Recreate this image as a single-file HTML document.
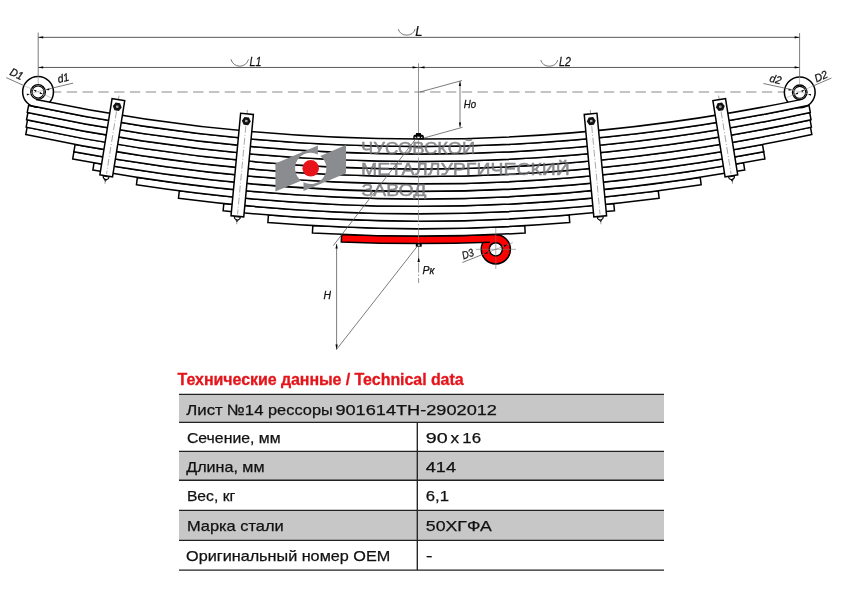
<!DOCTYPE html>
<html><head><meta charset="utf-8">
<style>
html,body{margin:0;padding:0;background:#fff;}
body{width:842px;height:595px;position:relative;overflow:hidden;font-family:"Liberation Sans",sans-serif;}
svg{position:absolute;left:0;top:0;will-change:transform;}
</style></head><body>
<svg width="842" height="595" viewBox="0 0 842 595">
<line x1="53.7" y1="92.05" x2="784.5" y2="92.05" stroke="#8a8a8a" stroke-width="1.1" stroke-dasharray="10.4 5.4" stroke-dashoffset="2.8"/>
<circle cx="495.8" cy="249.3" r="10.60" fill="none" stroke="#fe0000" stroke-width="8.00"/>
<circle cx="495.8" cy="249.3" r="14.60" fill="none" stroke="#000" stroke-width="1.5"/>
<circle cx="495.8" cy="249.3" r="6.60" fill="#fff" stroke="#000" stroke-width="1.5"/>
<path d="M341.60 234.48 A1865 1865 0 0 0 495.80 234.49 L495.80 241.99 A1865 1865 0 0 1 341.60 241.98 Z" fill="#fe0000" stroke="none"/>
<path d="M495.80 234.49 A1865 1865 0 0 1 341.60 234.48 L341.30 241.97 A1865 1865 0 0 0 490.00 242.22" fill="none" stroke="#000" stroke-width="1.5"/>
<path d="M312.80 225.61 A1865 1865 0 0 0 524.80 225.61 L525.16 233.04 A1865 1865 0 0 1 312.44 233.04 Z" fill="#fff" stroke="#000" stroke-width="1.5"/>
<path d="M268.40 215.09 A1865 1865 0 0 0 569.20 215.09 L569.71 222.50 A1865 1865 0 0 1 267.89 222.50 Z" fill="#fff" stroke="#000" stroke-width="1.5"/>
<path d="M223.80 203.48 A1865 1865 0 0 0 613.80 203.48 L614.46 210.87 A1865 1865 0 0 1 223.14 210.87 Z" fill="#fff" stroke="#000" stroke-width="1.5"/>
<path d="M179.30 190.80 A1865 1865 0 0 0 658.30 190.80 L659.11 198.15 A1865 1865 0 0 1 178.49 198.15 Z" fill="#fff" stroke="#000" stroke-width="1.5"/>
<path d="M137.40 177.43 A1865 1865 0 0 0 700.20 177.43 L701.16 184.74 A1865 1865 0 0 1 136.44 184.74 Z" fill="#fff" stroke="#000" stroke-width="1.5"/>
<path d="M94.00 162.82 A1865 1865 0 0 0 743.60 162.82 L744.70 170.08 A1865 1865 0 0 1 92.90 170.08 Z" fill="#fff" stroke="#000" stroke-width="1.5"/>
<path d="M73.90 151.69 A1865 1865 0 0 0 763.70 151.69 L764.87 158.93 A1865 1865 0 0 1 72.73 158.93 Z" fill="#fff" stroke="#000" stroke-width="1.5"/>
<path d="M75.10 144.46 A1865 1865 0 0 0 762.50 144.46 L763.67 151.70 A1865 1865 0 0 1 73.93 151.70 Z" fill="#fff" stroke="#000" stroke-width="1.5"/>
<path d="M27.10 127.34 A1865 1865 0 0 0 810.50 127.34 L811.83 134.52 A1865 1865 0 0 1 25.77 134.52 Z" fill="#fff" stroke="#000" stroke-width="1.5"/>
<path d="M27.50 119.97 A1865 1865 0 0 0 810.10 119.97 L811.43 127.14 A1865 1865 0 0 1 26.17 127.14 Z" fill="#fff" stroke="#000" stroke-width="1.5"/>
<path d="M27.90 112.59 A1865 1865 0 0 0 809.70 112.59 L811.03 119.77 A1865 1865 0 0 1 26.57 119.77 Z" fill="#fff" stroke="#000" stroke-width="1.5"/>
<path d="M28.60 105.28 A1865 1865 0 0 0 809.00 105.28 L810.33 112.46 A1865 1865 0 0 1 27.27 112.46 Z" fill="#fff" stroke="#000" stroke-width="1.5"/>
<circle cx="38.05" cy="91.95" r="15.4" fill="#fff" stroke="#000" stroke-width="1.5"/>
<circle cx="799.75" cy="92.3" r="15.4" fill="#fff" stroke="#000" stroke-width="1.5"/>
<path d="M38.05 99.82 A1865 1865 0 0 0 799.75 99.78 L799.75 107.24 A1865 1865 0 0 1 38.05 107.28 Z" fill="#fff" stroke="none"/>
<path d="M36.05 99.40 A1865 1865 0 0 0 801.75 99.36" fill="none" stroke="#000" stroke-width="1.5"/>
<path d="M28.60 105.28 A1865 1865 0 0 0 809.00 105.28" fill="none" stroke="#000" stroke-width="1.5"/>
<circle cx="38.05" cy="91.95" r="7.3" fill="#fff" stroke="#000" stroke-width="1.35"/>
<circle cx="38.05" cy="91.95" r="5.95" fill="none" stroke="#000" stroke-width="1.05"/>
<circle cx="799.75" cy="92.3" r="7.3" fill="#fff" stroke="#000" stroke-width="1.35"/>
<circle cx="799.75" cy="92.3" r="5.95" fill="none" stroke="#000" stroke-width="1.05"/>
<g transform="translate(118.40 99.60) rotate(9.08)"><line x1="0" y1="-4" x2="0" y2="85.27" stroke="#777" stroke-width="0.7" stroke-dasharray="7 2 1 2"/><rect x="-6.4" y="0" width="12.8" height="77.27" fill="#fff" stroke="#000" stroke-width="1.5"/><line x1="0" y1="12" x2="0" y2="75.27" stroke="#888" stroke-width="0.7" stroke-dasharray="7 2 1 2"/><polygon points="4.50,7.20 2.25,11.10 -2.25,11.10 -4.50,7.20 -2.25,3.30 2.25,3.30" fill="#111"/><rect x="-1.1" y="6.1" width="2.2" height="2.2" fill="#d0d0d0"/><rect x="-0.4" y="6.8" width="0.8" height="0.8" fill="#444"/><path d="M-3 77.87 Q-3 80.67 0 80.87 Q3 80.67 3 77.87 Z" fill="#fff" stroke="#000" stroke-width="1"/><path d="M-1.2 80.77 L0 82.77 L1.2 80.77" fill="none" stroke="#000" stroke-width="0.8"/></g>
<g transform="translate(247.00 113.90) rotate(5.36)"><line x1="0" y1="-4" x2="0" y2="110.85" stroke="#777" stroke-width="0.7" stroke-dasharray="7 2 1 2"/><rect x="-6.4" y="0" width="12.8" height="102.85" fill="#fff" stroke="#000" stroke-width="1.5"/><line x1="0" y1="12" x2="0" y2="100.85" stroke="#888" stroke-width="0.7" stroke-dasharray="7 2 1 2"/><polygon points="4.50,7.20 2.25,11.10 -2.25,11.10 -4.50,7.20 -2.25,3.30 2.25,3.30" fill="#111"/><rect x="-1.1" y="6.1" width="2.2" height="2.2" fill="#d0d0d0"/><rect x="-0.4" y="6.8" width="0.8" height="0.8" fill="#444"/><path d="M-3 103.45 Q-3 106.25 0 106.45 Q3 106.25 3 103.45 Z" fill="#fff" stroke="#000" stroke-width="1"/><path d="M-1.2 106.35 L0 108.35 L1.2 106.35" fill="none" stroke="#000" stroke-width="0.8"/></g>
<g transform="translate(590.60 113.90) rotate(-5.36)"><line x1="0" y1="-4" x2="0" y2="110.85" stroke="#777" stroke-width="0.7" stroke-dasharray="7 2 1 2"/><rect x="-6.4" y="0" width="12.8" height="102.85" fill="#fff" stroke="#000" stroke-width="1.5"/><line x1="0" y1="12" x2="0" y2="100.85" stroke="#888" stroke-width="0.7" stroke-dasharray="7 2 1 2"/><polygon points="4.50,7.20 2.25,11.10 -2.25,11.10 -4.50,7.20 -2.25,3.30 2.25,3.30" fill="#111"/><rect x="-1.1" y="6.1" width="2.2" height="2.2" fill="#d0d0d0"/><rect x="-0.4" y="6.8" width="0.8" height="0.8" fill="#444"/><path d="M-3 103.45 Q-3 106.25 0 106.45 Q3 106.25 3 103.45 Z" fill="#fff" stroke="#000" stroke-width="1"/><path d="M-1.2 106.35 L0 108.35 L1.2 106.35" fill="none" stroke="#000" stroke-width="0.8"/></g>
<g transform="translate(719.20 99.60) rotate(-9.08)"><line x1="0" y1="-4" x2="0" y2="85.27" stroke="#777" stroke-width="0.7" stroke-dasharray="7 2 1 2"/><rect x="-6.4" y="0" width="12.8" height="77.27" fill="#fff" stroke="#000" stroke-width="1.5"/><line x1="0" y1="12" x2="0" y2="75.27" stroke="#888" stroke-width="0.7" stroke-dasharray="7 2 1 2"/><polygon points="4.50,7.20 2.25,11.10 -2.25,11.10 -4.50,7.20 -2.25,3.30 2.25,3.30" fill="#111"/><rect x="-1.1" y="6.1" width="2.2" height="2.2" fill="#d0d0d0"/><rect x="-0.4" y="6.8" width="0.8" height="0.8" fill="#444"/><path d="M-3 77.87 Q-3 80.67 0 80.87 Q3 80.67 3 77.87 Z" fill="#fff" stroke="#000" stroke-width="1"/><path d="M-1.2 80.77 L0 82.77 L1.2 80.77" fill="none" stroke="#000" stroke-width="0.8"/></g>
<line x1="418.5" y1="63.3" x2="418.5" y2="133" stroke="#777" stroke-width="0.8"/>
<line x1="418.5" y1="140" x2="418.5" y2="243" stroke="#888" stroke-width="0.7" stroke-dasharray="12 2 1.5 2"/>
<line x1="418.6" y1="247" x2="418.6" y2="283" stroke="#777" stroke-width="0.8" stroke-dasharray="10 2 1.5 2"/>
<path d="M416.0 133.1 Q416.0 132.9 416.6 132.9 H420.4 Q421.0 132.9 421.0 133.4 V134.6 Q423.9 134.8 423.9 136.6 V139.2 H413.3 V136.6 Q413.3 134.8 416.0 134.6 Z" fill="#000"/>
<rect x="417.2" y="136.7" width="2.5" height="1.4" fill="#fff"/><rect x="414.7" y="136.8" width="1.1" height="1.2" fill="#fff"/><rect x="421.2" y="136.8" width="1.1" height="1.2" fill="#fff"/>
<rect x="415.8" y="243.3" width="5.9" height="3.4" fill="#000"/><rect x="417.8" y="244.5" width="2" height="1.2" fill="#fff"/>
<line x1="38.2" y1="32.6" x2="38.2" y2="76.5" stroke="#5a5a5a" stroke-width="0.8"/>
<line x1="38.2" y1="76.5" x2="38.2" y2="84" stroke="#999" stroke-width="0.7"/>
<line x1="799.6" y1="33.1" x2="799.6" y2="77" stroke="#5a5a5a" stroke-width="0.8"/>
<line x1="799.6" y1="77" x2="799.6" y2="84.3" stroke="#999" stroke-width="0.7"/>
<line x1="38.2" y1="37.35" x2="799.6" y2="37.35" stroke="#5a5a5a" stroke-width="1.0"/>
<path d="M38.40 37.35 L43.20 36.20 L43.20 38.50 Z" fill="#000"/>
<path d="M799.40 37.35 L794.60 38.50 L794.60 36.20 Z" fill="#000"/>
<line x1="38.2" y1="67.45" x2="799.6" y2="67.45" stroke="#5a5a5a" stroke-width="1.0"/>
<path d="M38.40 67.45 L43.20 66.30 L43.20 68.60 Z" fill="#000"/>
<path d="M417.40 67.45 L412.60 68.60 L412.60 66.30 Z" fill="#000"/>
<path d="M419.70 67.45 L424.50 66.30 L424.50 68.60 Z" fill="#000"/>
<path d="M799.40 67.45 L794.60 68.60 L794.60 66.30 Z" fill="#000"/>
<path d="M398.20 29.10 A9 9 0 0 0 415.20 29.10" fill="none" stroke="#555" stroke-width="0.8"/>
<path d="M231.00 59.30 A9 9 0 0 0 248.50 59.30" fill="none" stroke="#555" stroke-width="0.8"/>
<path d="M540.70 60.00 A9 9 0 0 0 557.80 60.00" fill="none" stroke="#555" stroke-width="0.8"/>
<text transform="translate(415.20 35.60) scale(0.900 1)" font-family="Liberation Sans" font-style="italic" font-size="14.5" fill="#111" stroke="#111" stroke-width="0.25" text-anchor="start">L</text>
<text transform="translate(249.50 65.60) scale(0.820 1)" font-family="Liberation Sans" font-style="italic" font-size="13" fill="#111" stroke="#111" stroke-width="0.25" text-anchor="start">L1</text>
<text transform="translate(559.00 65.60) scale(0.820 1)" font-family="Liberation Sans" font-style="italic" font-size="13" fill="#111" stroke="#111" stroke-width="0.25" text-anchor="start">L2</text>
<line x1="419.7" y1="92.1" x2="462" y2="80.5" stroke="#5a5a5a" stroke-width="0.8"/>
<line x1="424.2" y1="137.9" x2="462.5" y2="127.3" stroke="#5a5a5a" stroke-width="0.8"/>
<line x1="460" y1="81" x2="460" y2="127.3" stroke="#5a5a5a" stroke-width="0.8"/>
<path d="M460.00 81.30 L461.15 86.10 L458.85 86.10 Z" fill="#000"/>
<path d="M460.00 127.20 L458.85 122.40 L461.15 122.40 Z" fill="#000"/>
<text transform="translate(463.80 108.10) scale(0.920 1)" font-family="Liberation Sans" font-style="italic" font-size="10.5" fill="#111" stroke="#111" stroke-width="0.25" text-anchor="start">Ho</text>
<line x1="418" y1="136" x2="333.3" y2="245.6" stroke="#5a5a5a" stroke-width="0.8"/>
<line x1="336.6" y1="244" x2="336.6" y2="349.4" stroke="#5a5a5a" stroke-width="0.8"/>
<line x1="336.4" y1="349.6" x2="417.5" y2="246" stroke="#5a5a5a" stroke-width="0.8"/>
<path d="M336.60 243.80 L337.75 248.60 L335.45 248.60 Z" fill="#000"/>
<path d="M336.60 349.40 L335.45 344.60 L337.75 344.60 Z" fill="#000"/>
<text transform="translate(323.60 298.50) scale(0.950 1)" font-family="Liberation Sans" font-style="italic" font-size="11" fill="#111" stroke="#111" stroke-width="0.25" text-anchor="start">H</text>
<path d="M418.70 256.40 L419.90 261.90 L417.50 261.90 Z" fill="#000"/>
<text transform="translate(422.60 273.80)" font-family="Liberation Sans" font-style="italic" font-size="10.5" fill="#111" stroke="#111" stroke-width="0.25" text-anchor="start">Pк</text>
<line x1="6.20" y1="77.60" x2="24.00" y2="85.60" stroke="#5a5a5a" stroke-width="0.8"/>
<line x1="24.00" y1="85.60" x2="52.00" y2="98.20" stroke="#aaa" stroke-width="0.6"/>
<text transform="translate(9.00 74.50) rotate(24.5) scale(0.950 1)" font-family="Liberation Sans" font-style="italic" font-size="11" fill="#111" stroke="#111" stroke-width="0.25" text-anchor="start">D1</text>
<line x1="73.20" y1="83.10" x2="46.00" y2="89.60" stroke="#5a5a5a" stroke-width="0.8"/>
<line x1="46.00" y1="89.60" x2="30.00" y2="93.60" stroke="#aaa" stroke-width="0.6"/>
<text transform="translate(58.40 83.00) rotate(-13.5) scale(0.950 1)" font-family="Liberation Sans" font-style="italic" font-size="11" fill="#111" stroke="#111" stroke-width="0.25" text-anchor="start">d1</text>
<line x1="831.50" y1="78.00" x2="813.00" y2="86.00" stroke="#5a5a5a" stroke-width="0.8"/>
<line x1="813.00" y1="86.00" x2="786.00" y2="98.00" stroke="#aaa" stroke-width="0.6"/>
<text transform="translate(816.50 82.60) rotate(-24.5) scale(0.950 1)" font-family="Liberation Sans" font-style="italic" font-size="11" fill="#111" stroke="#111" stroke-width="0.25" text-anchor="start">D2</text>
<line x1="763.40" y1="83.50" x2="792.00" y2="89.70" stroke="#5a5a5a" stroke-width="0.8"/>
<line x1="792.00" y1="89.70" x2="808.00" y2="94.00" stroke="#aaa" stroke-width="0.6"/>
<text transform="translate(769.00 81.60) rotate(13.5) scale(0.950 1)" font-family="Liberation Sans" font-style="italic" font-size="11" fill="#111" stroke="#111" stroke-width="0.25" text-anchor="start">d2</text>
<path d="M42.87 94.15 L39.59 93.64 L40.33 92.00 Z" fill="#000"/>
<path d="M46.12 90.01 L49.02 88.39 L49.44 90.14 Z" fill="#000"/>
<path d="M804.57 90.10 L802.03 92.25 L801.29 90.61 Z" fill="#000"/>
<path d="M807.82 94.24 L811.14 94.11 L810.72 95.86 Z" fill="#000"/>
<path d="M33.23 89.75 L36.51 90.26 L35.77 91.90 Z" fill="#000"/>
<path d="M29.98 93.89 L27.08 95.51 L26.66 93.76 Z" fill="#000"/>
<path d="M794.93 94.50 L797.47 92.35 L798.21 93.99 Z" fill="#000"/>
<path d="M791.68 90.36 L788.36 90.49 L788.78 88.74 Z" fill="#000"/>
<line x1="462.40" y1="262.50" x2="481.20" y2="255.00" stroke="#5a5a5a" stroke-width="0.8"/>
<line x1="481.20" y1="255.00" x2="512.70" y2="242.70" stroke="#777" stroke-width="0.6"/>
<line x1="476.00" y1="249.30" x2="516.00" y2="249.30" stroke="#777" stroke-width="0.6"/>
<line x1="495.80" y1="228.00" x2="495.80" y2="269.00" stroke="#777" stroke-width="0.6"/>
<text transform="translate(463.50 259.60) rotate(-20.0) scale(0.850 1)" font-family="Liberation Sans" font-style="italic" font-size="11" fill="#111" stroke="#111" stroke-width="0.25" text-anchor="start">D3</text>
<path d="M507.71 244.61 L504.32 246.91 L503.66 245.24 Z" fill="#000"/>
<path d="M483.89 253.99 L487.28 251.69 L487.94 253.36 Z" fill="#000"/>
<g><path d="M275.4 191.5 L275.4 163.4 L317.9 145.6 L317.9 154.46 A15.6 15.6 0 0 0 301.19 180.67 Z" fill="#8b8c90"/><path d="M275.4 191.5 L275.4 163.4 L317.9 145.6 L317.9 154.46 A15.6 15.6 0 0 0 301.19 180.67 Z" fill="#8b8c90" transform="rotate(180 310.7 168.3)"/><circle cx="310.7" cy="168.3" r="8.25" fill="#e8141b"/></g>
<text transform="translate(361.00 153.70) scale(1.168 1)" font-family="Liberation Sans" font-size="15.8" fill="#6b6c70" stroke="#6b6c70" stroke-width="0.45" opacity="0.78">ЧУСОВСКОЙ</text>
<text transform="translate(361.00 174.60) scale(1.234 1)" font-family="Liberation Sans" font-size="15.8" fill="#6b6c70" stroke="#6b6c70" stroke-width="0.45" opacity="0.78">МЕТАЛЛУРГИЧЕСКИЙ</text>
<text transform="translate(361.50 196.00) scale(1.232 1)" font-family="Liberation Sans" font-size="15.8" fill="#6b6c70" stroke="#6b6c70" stroke-width="0.45" opacity="0.78">ЗАВОД</text>
<rect x="179.0" y="394.4" width="485.0" height="27.90" fill="#c7c7c7"/>
<rect x="179.0" y="451.4" width="485.0" height="28.80" fill="#c7c7c7"/>
<rect x="179.0" y="510.4" width="485.0" height="30.00" fill="#c7c7c7"/>
<line x1="179.0" y1="394.4" x2="664.0" y2="394.4" stroke="#222" stroke-width="1.35"/>
<line x1="179.0" y1="422.3" x2="664.0" y2="422.3" stroke="#222" stroke-width="1.35"/>
<line x1="179.0" y1="451.4" x2="664.0" y2="451.4" stroke="#222" stroke-width="1.35"/>
<line x1="179.0" y1="480.2" x2="664.0" y2="480.2" stroke="#222" stroke-width="1.35"/>
<line x1="179.0" y1="510.4" x2="664.0" y2="510.4" stroke="#222" stroke-width="1.35"/>
<line x1="179.0" y1="540.4" x2="664.0" y2="540.4" stroke="#222" stroke-width="1.35"/>
<line x1="179.0" y1="570.1" x2="664.0" y2="570.1" stroke="#222" stroke-width="1.35"/>
<line x1="417.3" y1="422.3" x2="417.3" y2="570.1" stroke="#222" stroke-width="1.35"/>
<text x="186.30" y="414.80" font-family="Liberation Sans" font-size="15" fill="#111" stroke="#111" stroke-width="0.25" textLength="36.5" lengthAdjust="spacingAndGlyphs">Лист</text>
<text x="227.00" y="414.80" font-family="Liberation Sans" font-size="15" fill="#111" stroke="#111" stroke-width="0.25" textLength="36.4" lengthAdjust="spacingAndGlyphs">№14</text>
<text x="268.00" y="414.80" font-family="Liberation Sans" font-size="15" fill="#111" stroke="#111" stroke-width="0.25" textLength="64.8" lengthAdjust="spacingAndGlyphs">рессоры</text>
<text x="335.40" y="414.80" font-family="Liberation Sans" font-size="15" fill="#111" stroke="#111" stroke-width="0.25" textLength="161.6" lengthAdjust="spacingAndGlyphs">901614TH-2902012</text>
<text x="186.90" y="442.70" font-family="Liberation Sans" font-size="15" fill="#111" stroke="#111" stroke-width="0.25" textLength="93.7" lengthAdjust="spacingAndGlyphs">Сечение, мм</text>
<text x="425.80" y="442.70" font-family="Liberation Sans" font-size="15" fill="#111" stroke="#111" stroke-width="0.25" textLength="21.9" lengthAdjust="spacingAndGlyphs">90</text>
<text x="450.60" y="442.70" font-family="Liberation Sans" font-size="15" fill="#111" stroke="#111" stroke-width="0.25" textLength="8.6" lengthAdjust="spacingAndGlyphs">x</text>
<text x="462.30" y="442.70" font-family="Liberation Sans" font-size="15" fill="#111" stroke="#111" stroke-width="0.25" textLength="18.7" lengthAdjust="spacingAndGlyphs">16</text>
<text x="186.30" y="471.80" font-family="Liberation Sans" font-size="15" fill="#111" stroke="#111" stroke-width="0.25" textLength="78.2" lengthAdjust="spacingAndGlyphs">Длина, мм</text>
<text x="425.80" y="471.80" font-family="Liberation Sans" font-size="15" fill="#111" stroke="#111" stroke-width="0.25" textLength="30.2" lengthAdjust="spacingAndGlyphs">414</text>
<text x="186.90" y="500.60" font-family="Liberation Sans" font-size="15" fill="#111" stroke="#111" stroke-width="0.25" textLength="48.4" lengthAdjust="spacingAndGlyphs">Вес, кг</text>
<text x="425.80" y="500.60" font-family="Liberation Sans" font-size="15" fill="#111" stroke="#111" stroke-width="0.25" textLength="23.2" lengthAdjust="spacingAndGlyphs">6,1</text>
<text x="186.90" y="530.80" font-family="Liberation Sans" font-size="15" fill="#111" stroke="#111" stroke-width="0.25" textLength="96.8" lengthAdjust="spacingAndGlyphs">Марка стали</text>
<text x="425.80" y="530.80" font-family="Liberation Sans" font-size="15" fill="#111" stroke="#111" stroke-width="0.25" textLength="66.0" lengthAdjust="spacingAndGlyphs">50ХГФА</text>
<text x="186.10" y="560.80" font-family="Liberation Sans" font-size="15" fill="#111" stroke="#111" stroke-width="0.25" textLength="204.1" lengthAdjust="spacingAndGlyphs">Оригинальный номер OEM</text>
<text x="426.00" y="560.80" font-family="Liberation Sans" font-size="15" fill="#111" stroke="#111" stroke-width="0.25" textLength="6.5" lengthAdjust="spacingAndGlyphs">-</text>
<text x="177.6" y="384.9" font-family="Liberation Sans" font-weight="bold" font-size="16" fill="#e3151b" stroke="#e3151b" stroke-width="0.3" letter-spacing="-0.07">Технические данные / Technical data</text>
</svg>
</body></html>
